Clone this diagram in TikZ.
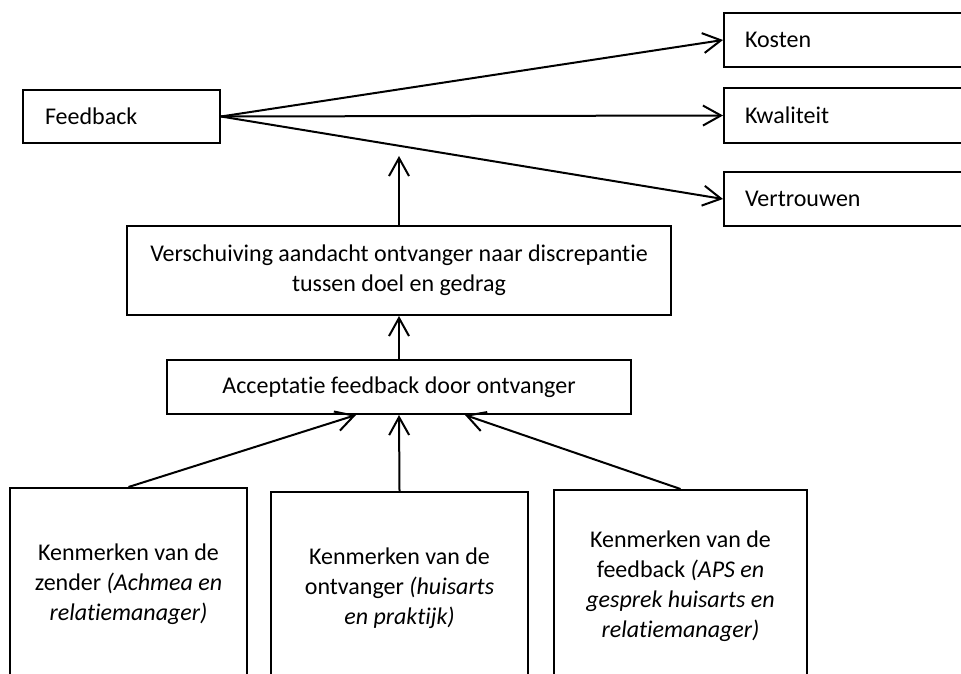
\documentclass[tikz,border=0pt]{standalone}
\usepackage{fontspec}
\setmainfont[Ligatures=NoCommon]{Carlito}
\usetikzlibrary{arrows.meta, positioning}

\begin{document}
\begin{tikzpicture}[x=0.5pt, y=-0.5pt, line width=1pt,
  >={Straight Barb[length=9pt, width=10pt]},
  box/.style={draw, line width=1pt, inner sep=0pt, align=center,
    font=\fontsize{12}{15}\selectfont},
  leftbox/.style={box, align=left, inner xsep=10.5pt, text width=#1}]
  \useasboundingbox (0,0) rectangle (961,673);
  \clip (0,0) rectangle (961,673);
  % bovenste rij
  \node[leftbox=76.5pt, minimum height=26.5pt, inner xsep=11pt] (fb) at (121.5,116.5) {Feedback};
  \node[leftbox=100pt, minimum height=27pt] (kosten) at (845,40) {Kosten};
  \node[leftbox=100pt, minimum height=27.5pt] (kwal) at (845,115.5) {Kwaliteit};
  \node[leftbox=100pt, minimum height=27pt] (vertr) at (845,199) {Vertrouwen};
  \coordinate (top) at (399,156);
  % midden
  \node[box, minimum width=272pt, minimum height=44.5pt] (versch) at (399,270.5)
    {Verschuiving aandacht ontvanger naar discrepantie\\ tussen doel en gedrag};
  \node[box, minimum width=232pt, minimum height=27pt] (acc) at (399,387)
    {Acceptatie feedback door ontvanger};
  % kenmerken
  \node[box, minimum width=118.5pt, minimum height=96pt] (zender) at (128.5,584)
    {Kenmerken van de\\ zender \textit{(Achmea en}\\ \textit{relatiemanager)}};
  \node[box, minimum width=128.5pt, minimum height=96pt] (ontv) at (399.5,588)
    {Kenmerken van de\\ ontvanger \textit{(huisarts}\\ \textit{en praktijk)}};
  \node[box, minimum width=126.5pt, minimum height=96pt] (fbk) at (680.5,586)
    {Kenmerken van de\\ feedback \textit{(APS en}\\ \textit{gesprek huisarts en}\\ \textit{relatiemanager)}};
  % pijlen
  \draw[->] (fb.east) -- (kosten.west);
  \draw[->] (fb.east) -- (kwal.west);
  \draw[->] (fb.east) -- (vertr.west);
  \draw[->] (versch.north) -- (top);
  \draw[->] (acc.north) -- (versch.south);
  \draw[->] (zender.north) -- ([xshift=-21.5pt]acc.south);
  \draw[->] (ontv.north) -- (acc.south);
  \draw[->] (fbk.north) -- ([xshift=33pt]acc.south);
\end{tikzpicture}
\end{document}
